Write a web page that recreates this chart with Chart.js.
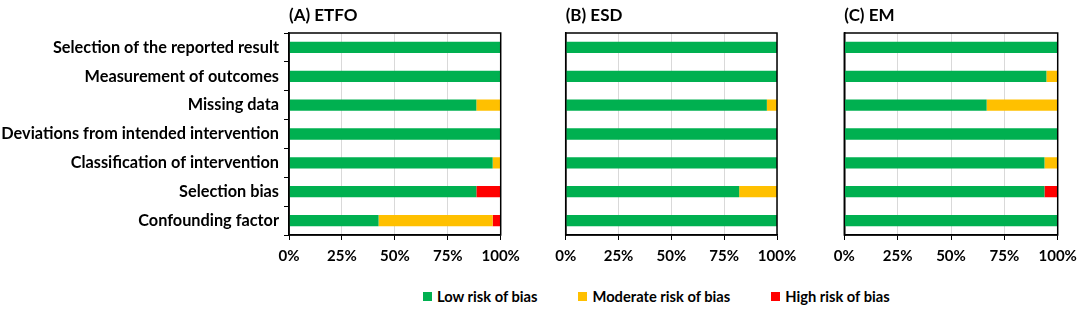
<!DOCTYPE html>
<html>
<head>
<meta charset="utf-8">
<script src="https://cdn.jsdelivr.net/npm/chart.js@4/dist/chart.umd.min.js"></script>
<style>
  body { margin: 0; background: #fff; width: 1084px; height: 312px; position: relative; overflow: hidden; }
  canvas { position: absolute; top: 0; }
  #legend { position: absolute; left: 423px; top: 287px; display: flex; gap: 41px;
    font: bold 14.7px Lato, sans-serif; color: #000; line-height: 18px; }
  #legend span.box { display: inline-block; width: 9px; height: 9px; margin-right: 5px; vertical-align: 1px; }
</style>
</head>
<body>
<canvas id="chartA" width="530" height="275" style="left:0px"></canvas>
<canvas id="chartB" width="270" height="275" style="left:540px"></canvas>
<canvas id="chartC" width="264" height="275" style="left:820px"></canvas>
<div id="legend"></div>
<script>
var categories = ['Selection of the reported result', 'Measurement of outcomes', 'Missing data',
  'Deviations from intended intervention', 'Classification of intervention', 'Selection bias', 'Confounding factor']
var seriesNames = ['Low risk of bias', 'Moderate risk of bias', 'High risk of bias']
var seriesColors = ['#00B050', '#FFC000', '#FF0000']
var xTicks = [0, 25, 50, 75, 100]

var etfoLow = [100, 100, 88.5, 100, 96.2, 88.5, 42.3]
var etfoModerate = [0, 0, 11.5, 0, 3.8, 0, 53.9]
var etfoHigh = [0, 0, 0, 0, 0, 11.5, 3.8]

var esdLow = [100, 100, 95.2, 100, 100, 82.1, 100]
var esdModerate = [0, 0, 4.8, 0, 0, 17.9, 0]
var esdHigh = [0, 0, 0, 0, 0, 0, 0]

var emLow = [100, 94.7, 66.7, 100, 93.8, 93.8, 100]
var emModerate = [0, 5.3, 33.3, 0, 6.2, 0, 0]
var emHigh = [0, 0, 0, 0, 0, 6.2, 0]

// box around the plot area (top and right sides)
var frame = {
  id: 'frame',
  afterDraw: function (chart) {
    var a = chart.chartArea, ctx = chart.ctx
    ctx.save()
    ctx.strokeStyle = '#000'
    ctx.lineWidth = 1.5
    ctx.strokeRect(a.left, a.top, a.right - a.left, a.bottom - a.top)
    ctx.restore()
  }
}

function makePanel(id, title, low, moderate, high, yWidth, padRight, showLabels) {
  var ctx = document.getElementById(id).getContext('2d')
  var values = [low, moderate, high]
  return new Chart(ctx, {
    type: 'bar',
    data: {
      labels: categories,
      datasets: values.map(function (v, i) {
        return {
          label: seriesNames[i],
          data: v,
          backgroundColor: seriesColors[i],
          borderWidth: 0,
          barPercentage: 0.39,
          categoryPercentage: 1
        }
      })
    },
    options: {
      indexAxis: 'y',
      responsive: false,
      animation: false,
      layout: { padding: { left: 0, right: padRight, top: 0, bottom: 0 } },
      plugins: {
        legend: { display: false },
        tooltip: { enabled: false },
        title: {
          display: true, text: title, align: 'start', fullSize: false, color: '#000',
          font: { family: 'Lato', size: 17, weight: 'bold' },
          padding: { top: 5, bottom: 7.6 }
        }
      },
      scales: {
        x: {
          stacked: true, min: 0, max: 100,
          afterBuildTicks: function (scale) { scale.ticks = xTicks.map(function (v) { return { value: v } }) },
          afterFit: function (scale) { scale.height = 40 },
          ticks: {
            callback: function (v) { return v + '%' },
            color: '#000', padding: 7, maxRotation: 0,
            font: { family: 'Lato', size: 15, weight: 'bold' }
          },
          grid: { color: '#d9d9d9', tickColor: '#000', tickLength: 5, lineWidth: 1 },
          border: { color: '#000', width: 1.5 }
        },
        y: {
          stacked: true,
          afterFit: function (scale) { scale.width = yWidth },
          ticks: {
            display: showLabels, color: '#000', padding: 5,
            font: { family: 'Lato', size: 16.3, weight: 'bold' }
          },
          grid: { display: showLabels, drawOnChartArea: false, tickLength: 5, tickColor: '#000' },
          border: { color: '#000', width: 1.5 }
        }
      }
    },
    plugins: [frame]
  })
}

makePanel('chartA', '(A) ETFO', etfoLow, etfoModerate, etfoHigh, 289, 29.3, true)
makePanel('chartB', '(B) ESD', esdLow, esdModerate, esdHigh, 25.7, 33, false)
makePanel('chartC', '(C) EM', emLow, emModerate, emHigh, 24.3, 26.3, false)

var legend = document.getElementById('legend')
seriesNames.forEach(function (name, i) {
  var item = document.createElement('div')
  item.innerHTML = '<span class="box" style="background:' + seriesColors[i] + '"></span>' + name
  legend.appendChild(item)
})
</script>
</body>
</html>
